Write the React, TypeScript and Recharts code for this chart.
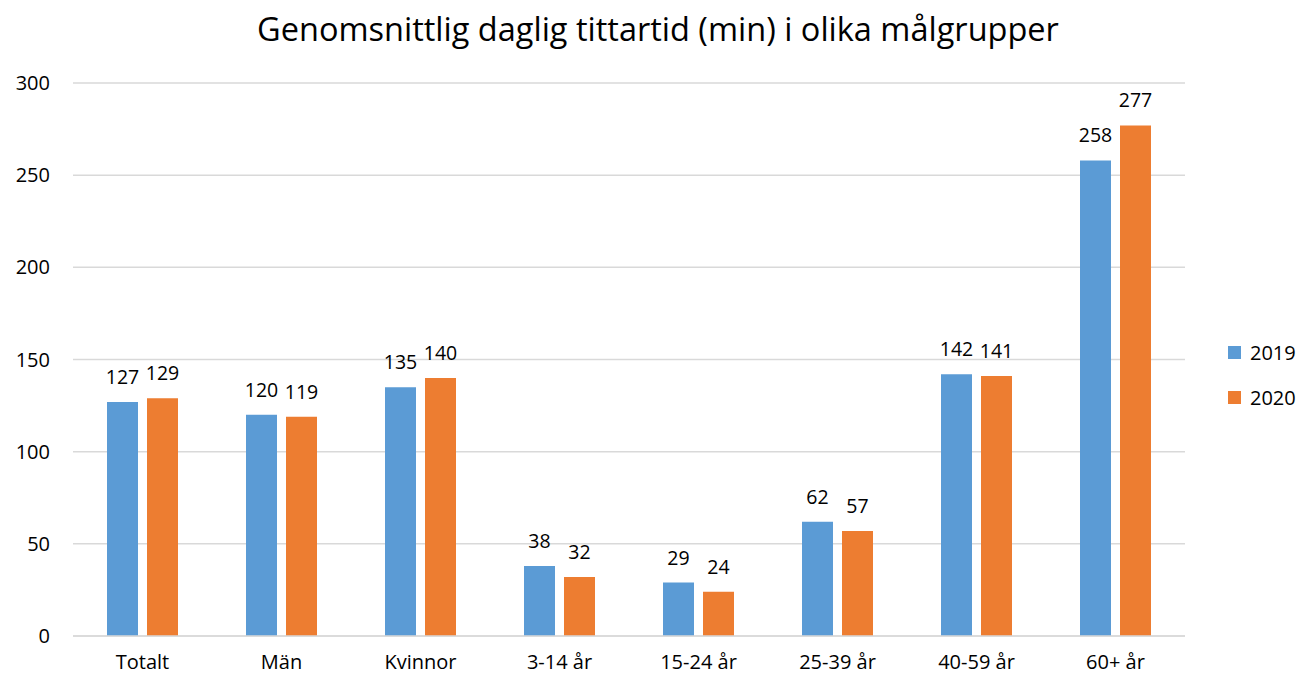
import { BarChart, Bar, XAxis, YAxis, CartesianGrid, LabelList } from 'recharts';

const categories = ['Totalt', 'Män', 'Kvinnor', '3-14 år', '15-24 år', '25-39 år', '40-59 år', '60+ år'];
const values2019 = [127, 120, 135, 38, 29, 62, 142, 258];
const values2020 = [129, 119, 140, 32, 24, 57, 141, 277];
const seriesNames = ['2019', '2020'];
const yTicks = [0, 50, 100, 150, 200, 250, 300];

const BLUE = '#5B9BD5';
const ORANGE = '#ED7D31';
const FONT = '"Open Sans", "Noto Sans", sans-serif';

const data = categories.map((name, i) => ({
  name,
  y2019: values2019[i],
  y2020: values2020[i],
}));

function LegendBox() {
  const colors = [BLUE, ORANGE];
  return (
    <div
      style={{
        position: 'absolute',
        left: 1228,
        top: 330,
        fontFamily: FONT,
        fontSize: 20,
        color: '#000',
      }}
    >
      {seriesNames.map((label, i) => (
        <div key={label} style={{ display: 'flex', alignItems: 'center', height: 45 }}>
          <span style={{ width: 13, height: 13, background: colors[i], marginRight: 9 }} />
          <span>{label}</span>
        </div>
      ))}
    </div>
  );
}

export default function App() {
  return (
    <div style={{ position: 'absolute', left: 0, top: 0, width: 1299, height: 677, background: '#fff' }}>
      <div
        style={{
          position: 'absolute',
          top: 6,
          left: 0,
          width: 1316,
          textAlign: 'center',
          fontFamily: FONT,
          fontSize: 32.5,
          color: '#000',
          whiteSpace: 'nowrap',
        }}
      >
        Genomsnittlig daglig tittartid (min) i olika målgrupper
      </div>
      <BarChart
        width={1299}
        height={677}
        data={data}
        margin={{ top: 83, right: 114, left: 13, bottom: 11 }}
        barSize={31}
        barGap={9}
      >
        <CartesianGrid vertical={false} stroke="#d9d9d9" strokeWidth={1.5} />
        <XAxis
          dataKey="name"
          height={30}
          tickLine={false}
          axisLine={{ stroke: '#d9d9d9', strokeWidth: 1.5 }}
          tickSize={8}
          tickMargin={11}
          tick={{ fill: '#000', fontSize: 20, fontFamily: FONT }}
          interval={0}
        />
        <YAxis
          width={60}
          domain={[0, 300]}
          ticks={yTicks}
          axisLine={false}
          tickLine={false}
          tickSize={8}
          tickMargin={15}
          tick={{ fill: '#000', fontSize: 20, fontFamily: FONT }}
        />
        <Bar dataKey="y2019" name={seriesNames[0]} fill={BLUE} isAnimationActive={false}>
          <LabelList dataKey="y2019" position="top" offset={18} fill="#000" fontSize={19.5} fontFamily={FONT} />
        </Bar>
        <Bar dataKey="y2020" name={seriesNames[1]} fill={ORANGE} isAnimationActive={false}>
          <LabelList dataKey="y2020" position="top" offset={18} fill="#000" fontSize={19.5} fontFamily={FONT} />
        </Bar>
      </BarChart>
      <LegendBox />
    </div>
  );
}
